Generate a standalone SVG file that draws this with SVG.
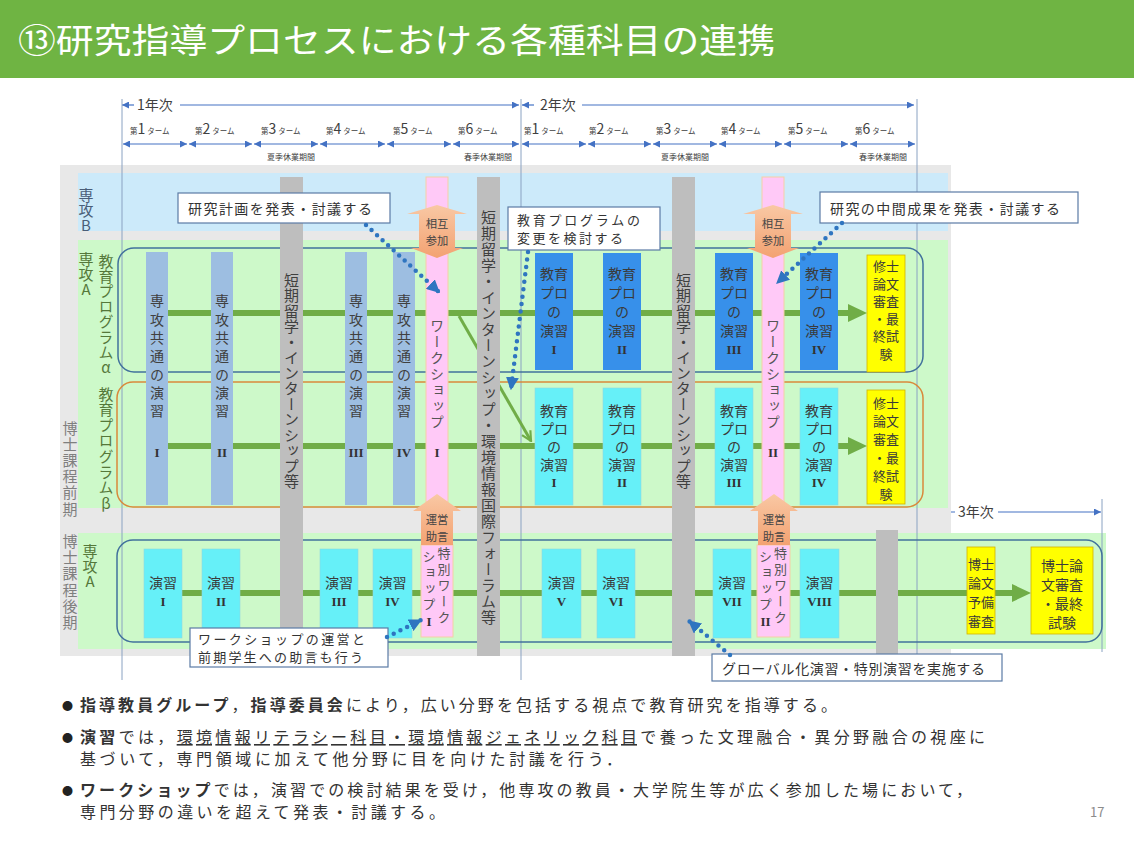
<svg xmlns="http://www.w3.org/2000/svg" width="1134" height="852" viewBox="0 0 1134 852">
<defs>
<style>
text{font-family:"Noto Sans CJK JP","Noto Sans CJK SC",sans-serif;}
.vt{writing-mode:vertical-rl;}
.up{text-orientation:upright;}
.num{font-family:"Liberation Serif",serif;font-weight:bold;font-size:13px;fill:#333;text-anchor:middle;dominant-baseline:central;}
.kk{fill:#9DBEE1;}
.gray{fill:#BEBEBE;}
.pink{fill:#FFC9F7;stroke:#F5CFA5;stroke-width:1;}
.dblue{fill:#3790EA;}
.cyan{fill:#66F0F8;stroke:#8FD7E0;stroke-width:0.6;}
.yel{fill:#FFFF00;stroke:#D2B200;stroke-width:0.8;}
.bt{font-size:14px;fill:#3a3a3a;text-anchor:middle;dominant-baseline:central;}
.yt{font-size:13px;fill:#3a3a3a;text-anchor:middle;dominant-baseline:central;}
.ot{font-size:11.3px;fill:#444;text-anchor:middle;dominant-baseline:central;}
.call{fill:#fff;stroke:#5B7BA5;stroke-width:1.2;}
.ct{font-size:14px;fill:#333;dominant-baseline:central;}
.ct2{font-size:13px;fill:#333;dominant-baseline:central;}
.dot{fill:none;stroke:#2F75C0;stroke-width:4.5;stroke-linecap:round;stroke-dasharray:0 7.5;}
.tl{stroke:#4472C4;stroke-width:1.2;fill:none;}
.vl{stroke:#8AA2C2;stroke-width:1;fill:none;}
.gl{stroke:#70AD47;stroke-width:6;fill:none;}
.term{font-size:7.5px;fill:#404040;}
.season{font-size:8px;fill:#404040;text-anchor:middle;}
.bul{font-size:16px;fill:#333;}
.dotb{font-size:11px;fill:#222;}
.lab{font-size:15px;}
</style>
<marker id="tri" viewBox="0 0 10 10" refX="10" refY="5" markerWidth="7" markerHeight="7" orient="auto-start-reverse" markerUnits="userSpaceOnUse"><path d="M0,0 L10,5 L0,10 z" fill="#4472C4"/></marker>
<marker id="dtri" viewBox="0 0 10 10" refX="9" refY="5" markerWidth="13" markerHeight="13" orient="auto" markerUnits="userSpaceOnUse"><path d="M0,0 L10,5 L0,10 z" fill="#2F75C0"/></marker>
<marker id="open" viewBox="0 0 10 10" refX="9" refY="5" markerWidth="12" markerHeight="12" orient="auto" markerUnits="userSpaceOnUse"><path d="M1,1 L9,5 L1,9" fill="none" stroke="#70AD47" stroke-width="1.8"/></marker>
<linearGradient id="og" x1="0" y1="0" x2="0" y2="1"><stop offset="0" stop-color="#F9C8A4"/><stop offset="1" stop-color="#F3A272"/></linearGradient>
</defs>

<!-- header -->
<g id="header">
<rect x="0" y="0" width="1134" height="78" fill="#6FB443"/>
<text x="18" y="53" font-size="34" fill="#fff" textLength="757" lengthAdjust="spacingAndGlyphs">⑬研究指導プロセスにおける各種科目の連携</text>
</g>

<!-- timeline -->
<g id="timeline">
<line class="tl" x1="122" y1="105" x2="134" y2="105" marker-start="url(#tri)"/>
<text x="137" y="110" font-size="14" fill="#404040">1年次</text>
<line class="tl" x1="180" y1="105" x2="519" y2="105" marker-end="url(#tri)"/>
<line class="tl" x1="522" y1="105" x2="534" y2="105" marker-start="url(#tri)"/>
<text x="540" y="110" font-size="14" fill="#404040">2年次</text>
<line class="tl" x1="582" y1="105" x2="914" y2="105" marker-end="url(#tri)"/>

<line class="tl" x1="123" y1="144" x2="187" y2="144" marker-start="url(#tri)" marker-end="url(#tri)"/>
<line class="tl" x1="189" y1="144" x2="252" y2="144" marker-start="url(#tri)" marker-end="url(#tri)"/>
<line class="tl" x1="254" y1="144" x2="318" y2="144" marker-start="url(#tri)" marker-end="url(#tri)"/>
<line class="tl" x1="320" y1="144" x2="385" y2="144" marker-start="url(#tri)" marker-end="url(#tri)"/>
<line class="tl" x1="387" y1="144" x2="451" y2="144" marker-start="url(#tri)" marker-end="url(#tri)"/>
<line class="tl" x1="453" y1="144" x2="519" y2="144" marker-start="url(#tri)" marker-end="url(#tri)"/>
<line class="tl" x1="522" y1="144" x2="586" y2="144" marker-start="url(#tri)" marker-end="url(#tri)"/>
<line class="tl" x1="588" y1="144" x2="651" y2="144" marker-start="url(#tri)" marker-end="url(#tri)"/>
<line class="tl" x1="653" y1="144" x2="717" y2="144" marker-start="url(#tri)" marker-end="url(#tri)"/>
<line class="tl" x1="719" y1="144" x2="782" y2="144" marker-start="url(#tri)" marker-end="url(#tri)"/>
<line class="tl" x1="784" y1="144" x2="848" y2="144" marker-start="url(#tri)" marker-end="url(#tri)"/>
<line class="tl" x1="850" y1="144" x2="915" y2="144" marker-start="url(#tri)" marker-end="url(#tri)"/>

<text class="term" x="130" y="134">第<tspan font-size="14">1</tspan><tspan dx="2">ターム</tspan></text>
<text class="term" x="195" y="134">第<tspan font-size="14">2</tspan><tspan dx="2">ターム</tspan></text>
<text class="term" x="261" y="134">第<tspan font-size="14">3</tspan><tspan dx="2">ターム</tspan></text>
<text class="term" x="326" y="134">第<tspan font-size="14">4</tspan><tspan dx="2">ターム</tspan></text>
<text class="term" x="393" y="134">第<tspan font-size="14">5</tspan><tspan dx="2">ターム</tspan></text>
<text class="term" x="458" y="134">第<tspan font-size="14">6</tspan><tspan dx="2">ターム</tspan></text>
<text class="term" x="524" y="134">第<tspan font-size="14">1</tspan><tspan dx="2">ターム</tspan></text>
<text class="term" x="589" y="134">第<tspan font-size="14">2</tspan><tspan dx="2">ターム</tspan></text>
<text class="term" x="656" y="134">第<tspan font-size="14">3</tspan><tspan dx="2">ターム</tspan></text>
<text class="term" x="721" y="134">第<tspan font-size="14">4</tspan><tspan dx="2">ターム</tspan></text>
<text class="term" x="788" y="134">第<tspan font-size="14">5</tspan><tspan dx="2">ターム</tspan></text>
<text class="term" x="855" y="134">第<tspan font-size="14">6</tspan><tspan dx="2">ターム</tspan></text>

<text class="season" x="291" y="160">夏季休業期間</text>
<text class="season" x="488" y="160">春季休業期間</text>
<text class="season" x="685" y="160">夏季休業期間</text>
<text class="season" x="883" y="160">春季休業期間</text>

<line class="tl" x1="918" y1="512" x2="955" y2="512" marker-start="url(#tri)"/>
<text x="958" y="517" font-size="14" fill="#404040">3年次</text>
<line class="tl" x1="998" y1="512" x2="1101" y2="512" marker-end="url(#tri)"/>
</g>

<!-- backgrounds -->
<g id="bands">
<rect x="60" y="165" width="891" height="491" fill="#E8E8E8"/>
<rect x="78" y="173" width="870" height="58" fill="#CCEAFA"/>
<rect x="78" y="240" width="870" height="268" fill="#CDF9C9"/>
<rect x="78" y="533" width="1028" height="116" fill="#CDF9C9"/>
</g>

<g id="gridlines">
<line class="vl" x1="122" y1="99" x2="122" y2="680"/>
<line class="vl" x1="521" y1="99" x2="521" y2="680"/>
<line class="vl" x1="917" y1="99" x2="917" y2="680"/>
<line class="vl" x1="1102" y1="499" x2="1102" y2="652"/>
</g>

<!-- outlines -->
<g id="outlines">
<rect x="118" y="248" width="805" height="124" rx="16" fill="none" stroke="#41719C" stroke-width="1.5"/>
<rect x="117" y="382" width="806" height="125" rx="16" fill="none" stroke="#D9893B" stroke-width="1.5"/>
<rect x="117" y="540" width="985" height="102" rx="16" fill="none" stroke="#41719C" stroke-width="1.5"/>
</g>

<!-- connectors -->
<g id="connectors">
<line class="gl" x1="155" y1="313" x2="850" y2="313"/>
<polygon points="848,304 867,313 848,322" fill="#70AD47"/>
<line class="gl" x1="155" y1="446" x2="850" y2="446"/>
<polygon points="848,437 867,446 848,455" fill="#70AD47"/>
<line class="gl" x1="160" y1="593" x2="1014" y2="593"/>
<polygon points="1012,584 1031,593 1012,602" fill="#70AD47"/>
<line x1="459" y1="316" x2="531" y2="441" stroke="#70AD47" stroke-width="3" marker-end="url(#open)"/>
</g>

<!-- year 1 columns -->
<g id="senko-1"><rect class="kk" x="146" y="252" width="22" height="253"/><text class="vt" x="157" y="294" font-size="14" fill="#404040" letter-spacing="4.3">専攻共通の演習</text><text class="num" x="157" y="452">I</text></g>
<g id="senko-2"><rect class="kk" x="211" y="252" width="22" height="253"/><text class="vt" x="222" y="294" font-size="14" fill="#404040" letter-spacing="4.3">専攻共通の演習</text><text class="num" x="222" y="452">II</text></g>
<g id="senko-3"><rect class="kk" x="345" y="252" width="22" height="253"/><text class="vt" x="356" y="294" font-size="14" fill="#404040" letter-spacing="4.3">専攻共通の演習</text><text class="num" x="356" y="452">III</text></g>
<g id="senko-4"><rect class="kk" x="393" y="252" width="22" height="253"/><text class="vt" x="404" y="294" font-size="14" fill="#404040" letter-spacing="4.3">専攻共通の演習</text><text class="num" x="404" y="452">IV</text></g>

<g id="gray-a"><rect class="gray" x="280" y="177" width="23" height="479"/><text class="vt" x="291.5" y="272.5" font-size="15" fill="#404040" letter-spacing="0.5">短期留学・インターンシップ等</text></g>
<g id="gray-b"><rect class="gray" x="477" y="177" width="23" height="479"/><text class="vt" x="488.5" y="209.5" font-size="15" fill="#404040" letter-spacing="1">短期留学・インターンシップ・環境情報国際フォーラム等</text></g>
<g id="gray-c"><rect class="gray" x="672" y="177" width="23" height="479"/><text class="vt" x="683.5" y="272.5" font-size="15" fill="#404040" letter-spacing="0.5">短期留学・インターンシップ等</text></g>
<g id="gray-d"><rect class="gray" x="876" y="530" width="22" height="126"/></g>

<g id="ws-1"><rect class="pink" x="426" y="177" width="22" height="325"/><text class="vt" x="437" y="319" font-size="14" fill="#555" letter-spacing="2">ワークショップ</text><text class="num" x="437" y="452">I</text></g>
<g id="ws-2"><rect class="pink" x="762" y="177" width="22" height="325"/><text class="vt" x="773" y="319" font-size="14" fill="#555" letter-spacing="2">ワークショップ</text><text class="num" x="773" y="452">II</text></g>

<!-- year 2 alpha -->
<g id="a-1"><rect class="dblue" x="535" y="253" width="38" height="117"/><text class="bt" x="554" y="273">教育</text><text class="bt" x="554" y="292">プロ</text><text class="bt" x="554" y="311">の</text><text class="bt" x="554" y="330">演習</text><text class="num" x="554" y="349">I</text></g>
<g id="a-2"><rect class="dblue" x="603" y="253" width="38" height="117"/><text class="bt" x="622" y="273">教育</text><text class="bt" x="622" y="292">プロ</text><text class="bt" x="622" y="311">の</text><text class="bt" x="622" y="330">演習</text><text class="num" x="622" y="349">II</text></g>
<g id="a-3"><rect class="dblue" x="715" y="253" width="38" height="117"/><text class="bt" x="734" y="273">教育</text><text class="bt" x="734" y="292">プロ</text><text class="bt" x="734" y="311">の</text><text class="bt" x="734" y="330">演習</text><text class="num" x="734" y="349">III</text></g>
<g id="a-4"><rect class="dblue" x="800" y="253" width="38" height="117"/><text class="bt" x="819" y="273">教育</text><text class="bt" x="819" y="292">プロ</text><text class="bt" x="819" y="311">の</text><text class="bt" x="819" y="330">演習</text><text class="num" x="819" y="349">IV</text></g>
<g id="a-exam"><rect class="yel" x="867" y="255" width="38" height="117"/><text class="yt" x="886" y="265">修士</text><text class="yt" x="886" y="283">論文</text><text class="yt" x="886" y="300.5">審査</text><text class="yt" x="886" y="318">・最</text><text class="yt" x="886" y="335.5">終試</text><text class="yt" x="886" y="353">験</text></g>

<!-- year 2 beta -->
<g id="b-1"><rect class="cyan" x="535" y="388" width="38" height="117"/><text class="bt" x="554" y="410">教育</text><text class="bt" x="554" y="428">プロ</text><text class="bt" x="554" y="446">の</text><text class="bt" x="554" y="464">演習</text><text class="num" x="554" y="482">I</text></g>
<g id="b-2"><rect class="cyan" x="603" y="388" width="38" height="117"/><text class="bt" x="622" y="410">教育</text><text class="bt" x="622" y="428">プロ</text><text class="bt" x="622" y="446">の</text><text class="bt" x="622" y="464">演習</text><text class="num" x="622" y="482">II</text></g>
<g id="b-3"><rect class="cyan" x="715" y="388" width="38" height="117"/><text class="bt" x="734" y="410">教育</text><text class="bt" x="734" y="428">プロ</text><text class="bt" x="734" y="446">の</text><text class="bt" x="734" y="464">演習</text><text class="num" x="734" y="482">III</text></g>
<g id="b-4"><rect class="cyan" x="800" y="388" width="38" height="117"/><text class="bt" x="819" y="410">教育</text><text class="bt" x="819" y="428">プロ</text><text class="bt" x="819" y="446">の</text><text class="bt" x="819" y="464">演習</text><text class="num" x="819" y="482">IV</text></g>
<g id="b-exam"><rect class="yel" x="867" y="390" width="38" height="114"/><text class="yt" x="886" y="402">修士</text><text class="yt" x="886" y="420">論文</text><text class="yt" x="886" y="438">審査</text><text class="yt" x="886" y="457">・最</text><text class="yt" x="886" y="475">終試</text><text class="yt" x="886" y="493">験</text></g>

<!-- doctoral row -->
<g id="d-1"><rect class="cyan" x="144" y="549" width="38" height="89"/><text class="bt" x="163" y="582">演習</text><text class="num" x="163" y="601">I</text></g>
<g id="d-2"><rect class="cyan" x="202" y="549" width="38" height="89"/><text class="bt" x="221" y="582">演習</text><text class="num" x="221" y="601">II</text></g>
<g id="d-3"><rect class="cyan" x="320" y="549" width="38" height="89"/><text class="bt" x="339" y="582">演習</text><text class="num" x="339" y="601">III</text></g>
<g id="d-4"><rect class="cyan" x="373" y="549" width="39" height="89"/><text class="bt" x="392.5" y="582">演習</text><text class="num" x="392.5" y="601">IV</text></g>
<g id="d-5"><rect class="cyan" x="542" y="549" width="39" height="89"/><text class="bt" x="561.5" y="582">演習</text><text class="num" x="561.5" y="601">V</text></g>
<g id="d-6"><rect class="cyan" x="597" y="549" width="38" height="89"/><text class="bt" x="616" y="582">演習</text><text class="num" x="616" y="601">VI</text></g>
<g id="d-7"><rect class="cyan" x="713" y="549" width="38" height="89"/><text class="bt" x="732" y="582">演習</text><text class="num" x="732" y="601">VII</text></g>
<g id="d-8"><rect class="cyan" x="800" y="549" width="39" height="89"/><text class="bt" x="819.5" y="582">演習</text><text class="num" x="819.5" y="601">VIII</text></g>
<g id="d-pre"><rect class="yel" x="967" y="547" width="28" height="87"/><text class="yt" x="981" y="563">博士</text><text class="yt" x="981" y="582">論文</text><text class="yt" x="981" y="601">予備</text><text class="yt" x="981" y="620">審査</text></g>
<g id="d-exam"><rect class="yel" x="1031" y="547" width="62" height="87"/><text class="bt" x="1062" y="565">博士論</text><text class="bt" x="1062" y="584">文審査</text><text class="bt" x="1062" y="603">・最終</text><text class="bt" x="1062" y="622">試験</text></g>

<g id="sws-1"><rect class="pink" x="421" y="545" width="32" height="92"/><text class="vt" font-size="13" fill="#555" letter-spacing="3"><tspan x="444" y="546.5">特別ワーク</tspan><tspan x="429" y="549.5">ショップ</tspan></text><text class="num" x="429" y="621">I</text></g>
<g id="sws-2"><rect class="pink" x="757" y="545" width="33" height="92"/><text class="vt" font-size="13" fill="#555" letter-spacing="3"><tspan x="780.5" y="546.5">特別ワーク</tspan><tspan x="765.5" y="549.5">ショップ</tspan></text><text class="num" x="765.5" y="621">II</text></g>

<!-- orange arrows -->
<g id="mutual-1"><polygon points="437,205 467,214 455,214 455,248 463,248 437,258 411,248 419,248 419,214 407,214" fill="url(#og)"/><text class="ot"><tspan x="437" y="222.5">相互</tspan><tspan x="437" y="239.5">参加</tspan></text></g>
<g id="mutual-2"><polygon points="773,205 803,214 791,214 791,248 799,248 773,258 747,248 755,248 755,214 743,214" fill="url(#og)"/><text class="ot"><tspan x="773" y="222.5">相互</tspan><tspan x="773" y="239.5">参加</tspan></text></g>
<g id="advice-1"><polygon points="437,494 461,511 453,511 453,545 421,545 421,511 413,511" fill="url(#og)"/><text class="ot"><tspan x="437" y="519">運営</tspan><tspan x="437" y="536">助言</tspan></text></g>
<g id="advice-2"><polygon points="774,494 798,511 790,511 790,545 758,545 758,511 750,511" fill="url(#og)"/><text class="ot"><tspan x="774" y="519">運営</tspan><tspan x="774" y="536">助言</tspan></text></g>

<!-- side labels -->
<g id="labels">
<text class="vt up lab" x="86" y="187.5" fill="#4A5E78">専攻B</text>
<text class="vt up lab" x="86" y="251.5" fill="#55783A">専攻A</text>
<text class="vt up lab" x="106" y="253.5" fill="#55783A" letter-spacing="0.2">教育プログラムα</text>
<text class="vt up lab" x="106" y="386.5" fill="#55783A" letter-spacing="0.6">教育プログラムβ</text>
<text class="vt lab" x="70" y="420.5" fill="#7f7f7f" letter-spacing="1.2">博士課程前期</text>
<text class="vt lab" x="70" y="533.5" fill="#7f7f7f" letter-spacing="1.3">博士課程後期</text>
<text class="vt up lab" x="90" y="543.5" fill="#55783A">専攻A</text>
</g>

<!-- callouts -->
<g id="callout-1"><rect class="call" x="178" y="193" width="212" height="30"/><text class="ct" x="188" y="208" textLength="184">研究計画を発表・討議する</text></g>
<g id="callout-2"><rect class="call" x="508" y="207" width="152" height="43"/><text class="ct2" x="517" y="219" textLength="123">教育プログラムの</text><text class="ct2" x="517" y="237" textLength="106">変更を検討する</text></g>
<g id="callout-3"><rect class="call" x="820" y="192" width="258" height="31"/><text class="ct" x="830" y="207.5" textLength="230">研究の中間成果を発表・討議する</text></g>
<g id="callout-4"><rect class="call" x="190" y="628" width="198" height="39"/><text class="ct2" x="198" y="638.5" textLength="167">ワークショップの運営と</text><text class="ct2" x="198" y="656.5" textLength="165">前期学生への助言も行う</text></g>
<g id="callout-5"><rect class="call" x="712" y="654" width="290" height="27"/><text class="ct" x="722" y="667.5" textLength="263">グローバル化演習・特別演習を実施する</text></g>

<g id="dotted-connectors">
<line class="dot" x1="366" y1="225" x2="439" y2="292" marker-end="url(#dtri)"/>
<line class="dot" x1="528" y1="252" x2="511" y2="389" marker-end="url(#dtri)"/>
<line class="dot" x1="842" y1="223" x2="777" y2="283" marker-end="url(#dtri)"/>
<line class="dot" x1="387" y1="637" x2="421" y2="620" marker-end="url(#dtri)"/>
<line class="dot" x1="730" y1="655" x2="689" y2="621" marker-end="url(#dtri)"/>
</g>

<!-- notes -->
<g id="notes">
<text class="dotb" x="62" y="710">●</text>
<text class="bul" x="80" y="711" textLength="757" lengthAdjust="spacing"><tspan font-weight="bold">指導教員グループ</tspan>，<tspan font-weight="bold">指導委員会</tspan>により，広い分野を包括する視点で教育研究を指導する。</text>
<text class="dotb" x="62" y="742">●</text>
<text class="bul" x="80" y="743" textLength="905" lengthAdjust="spacing"><tspan font-weight="bold">演習</tspan>では，<tspan text-decoration="underline">環境情報リテラシー科目・環境情報ジェネリック科目</tspan>で養った文理融合・異分野融合の視座に</text>
<text class="bul" x="80" y="765" textLength="542" lengthAdjust="spacing">基づいて，専門領域に加えて他分野に目を向けた討議を行う．</text>
<text class="dotb" x="62" y="795">●</text>
<text class="bul" x="80" y="796" textLength="892" lengthAdjust="spacing"><tspan font-weight="bold">ワークショップ</tspan>では，演習での検討結果を受け，他専攻の教員・大学院生等が広く参加した場において，</text>
<text class="bul" x="80" y="818" textLength="365" lengthAdjust="spacing">専門分野の違いを超えて発表・討議する。</text>
<text x="1090" y="817" font-family="Liberation Sans, sans-serif" font-size="13" fill="#8c8c8c">17</text>
</g>
</svg>
